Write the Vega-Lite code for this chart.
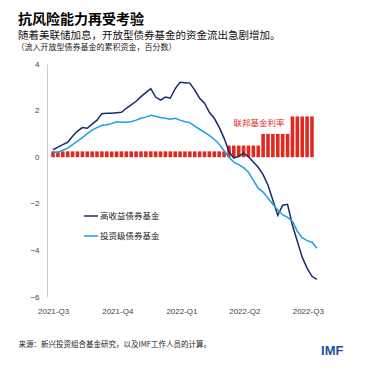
{
  "$schema": "https://vega.github.io/schema/vega-lite/v6.json",
  "autosize": "none",
  "width": 278,
  "height": 233,
  "padding": {"left": 47, "top": 64, "right": 46, "bottom": 74},
  "background": "white",
  "title": {
    "text": "抗风险能力再受考验",
    "subtitle": "随着美联储加息，开放型债券基金的资金流出急剧增加。",
    "anchor": "start",
    "frame": "group",
    "dx": -29,
    "dy": 1,
    "offset": 3,
    "font": "Noto Sans CJK SC",
    "fontSize": 14,
    "fontWeight": "bold",
    "color": "#000000",
    "subtitleFont": "Noto Sans CJK SC",
    "subtitleFontSize": 10.5,
    "subtitleColor": "#111111",
    "subtitlePadding": 4
  },
  "datasets": {
    "weekly": [
      {"date": "2021-07-01", "hy": 0.32, "ig": 0.21, "fed": 0.25},
      {"date": "2021-07-08", "hy": 0.43, "ig": 0.21, "fed": 0.25},
      {"date": "2021-07-15", "hy": 0.54, "ig": 0.30, "fed": 0.25},
      {"date": "2021-07-22", "hy": 0.64, "ig": 0.39, "fed": 0.25},
      {"date": "2021-07-29", "hy": 0.90, "ig": 0.54, "fed": 0.25},
      {"date": "2021-08-05", "hy": 1.12, "ig": 0.69, "fed": 0.25},
      {"date": "2021-08-12", "hy": 1.27, "ig": 0.84, "fed": 0.25},
      {"date": "2021-08-19", "hy": 1.24, "ig": 1.01, "fed": 0.25},
      {"date": "2021-08-26", "hy": 1.42, "ig": 1.16, "fed": 0.25},
      {"date": "2021-09-02", "hy": 1.59, "ig": 1.27, "fed": 0.25},
      {"date": "2021-09-09", "hy": 1.87, "ig": 1.37, "fed": 0.25},
      {"date": "2021-09-16", "hy": 1.89, "ig": 1.39, "fed": 0.25},
      {"date": "2021-09-23", "hy": 1.89, "ig": 1.44, "fed": 0.25},
      {"date": "2021-09-30", "hy": 1.91, "ig": 1.52, "fed": 0.25},
      {"date": "2021-10-07", "hy": 1.93, "ig": 1.50, "fed": 0.25},
      {"date": "2021-10-14", "hy": 2.10, "ig": 1.50, "fed": 0.25},
      {"date": "2021-10-21", "hy": 2.25, "ig": 1.52, "fed": 0.25},
      {"date": "2021-10-28", "hy": 2.40, "ig": 1.59, "fed": 0.25},
      {"date": "2021-11-04", "hy": 2.60, "ig": 1.67, "fed": 0.25},
      {"date": "2021-11-11", "hy": 2.77, "ig": 1.72, "fed": 0.25},
      {"date": "2021-11-18", "hy": 2.94, "ig": 1.80, "fed": 0.25},
      {"date": "2021-11-25", "hy": 2.58, "ig": 1.76, "fed": 0.25},
      {"date": "2021-12-02", "hy": 2.45, "ig": 1.70, "fed": 0.25},
      {"date": "2021-12-09", "hy": 2.58, "ig": 1.67, "fed": 0.25},
      {"date": "2021-12-16", "hy": 2.53, "ig": 1.63, "fed": 0.25},
      {"date": "2021-12-23", "hy": 2.94, "ig": 1.67, "fed": 0.25},
      {"date": "2021-12-30", "hy": 3.22, "ig": 1.59, "fed": 0.25},
      {"date": "2022-01-06", "hy": 3.20, "ig": 1.52, "fed": 0.25},
      {"date": "2022-01-13", "hy": 3.18, "ig": 1.48, "fed": 0.25},
      {"date": "2022-01-20", "hy": 2.88, "ig": 1.33, "fed": 0.25},
      {"date": "2022-01-27", "hy": 2.53, "ig": 1.20, "fed": 0.25},
      {"date": "2022-02-03", "hy": 2.32, "ig": 1.07, "fed": 0.25},
      {"date": "2022-02-10", "hy": 1.93, "ig": 0.94, "fed": 0.25},
      {"date": "2022-02-17", "hy": 1.67, "ig": 0.77, "fed": 0.25},
      {"date": "2022-02-24", "hy": 1.29, "ig": 0.56, "fed": 0.25},
      {"date": "2022-03-03", "hy": 0.82, "ig": 0.28, "fed": 0.25},
      {"date": "2022-03-10", "hy": 0.26, "ig": 0.00, "fed": 0.5},
      {"date": "2022-03-17", "hy": -0.04, "ig": -0.21, "fed": 0.5},
      {"date": "2022-03-24", "hy": 0.04, "ig": -0.32, "fed": 0.5},
      {"date": "2022-03-31", "hy": 0.17, "ig": -0.45, "fed": 0.5},
      {"date": "2022-04-07", "hy": 0.02, "ig": -0.64, "fed": 0.5},
      {"date": "2022-04-14", "hy": -0.21, "ig": -0.99, "fed": 0.5},
      {"date": "2022-04-21", "hy": -0.43, "ig": -1.33, "fed": 0.5},
      {"date": "2022-04-28", "hy": -0.75, "ig": -1.50, "fed": 1.0},
      {"date": "2022-05-05", "hy": -1.20, "ig": -1.76, "fed": 1.0},
      {"date": "2022-05-12", "hy": -1.85, "ig": -2.02, "fed": 1.0},
      {"date": "2022-05-19", "hy": -2.49, "ig": -2.27, "fed": 1.0},
      {"date": "2022-05-26", "hy": -2.06, "ig": -2.47, "fed": 1.0},
      {"date": "2022-06-02", "hy": -2.02, "ig": -2.58, "fed": 1.0},
      {"date": "2022-06-09", "hy": -2.92, "ig": -2.75, "fed": 1.75},
      {"date": "2022-06-16", "hy": -3.61, "ig": -3.18, "fed": 1.75},
      {"date": "2022-06-23", "hy": -4.29, "ig": -3.45, "fed": 1.75},
      {"date": "2022-06-30", "hy": -4.76, "ig": -3.58, "fed": 1.75},
      {"date": "2022-07-07", "hy": -5.11, "ig": -3.65, "fed": 1.75},
      {"date": "2022-07-14", "hy": -5.24, "ig": -3.91, "fed": null}
    ],
    "note": [
      {"date": "2022-04-22", "value": 1.46, "label": "联邦基金利率"}
    ]
  },
  "resolve": {"axis": {"x": "independent"}},
  "layer": [
    {
      "data": {"name": "weekly"},
      "mark": {"type": "bar", "width": 3.6, "color": "#e02a1f"},
      "encoding": {
        "x": {
          "field": "date",
          "type": "temporal",
          "scale": {"type": "utc", "domain": [{"year": 2021, "month": 6, "date": 29, "hours": 12, "utc": true}, {"year": 2022, "month": 7, "date": 18, "hours": 12, "utc": true}]},
          "axis": {
            "values": [
              {"year": 2021, "month": 7, "date": 1, "utc": true},
              {"year": 2021, "month": 10, "date": 1, "utc": true},
              {"year": 2022, "month": 1, "date": 1, "utc": true},
              {"year": 2022, "month": 4, "date": 1, "utc": true},
              {"year": 2022, "month": 7, "date": 1, "utc": true}
            ],
            "format": "%Y-Q%q",
            "domain": false,
            "ticks": false,
            "grid": false,
            "labelPadding": 10,
            "labelFont": "Liberation Sans",
            "labelFontSize": 8,
            "labelColor": "#444444",
            "labelFlush": false,
            "labelOverlap": false,
            "title": "来源：新兴投资组合基金研究，以及IMF工作人员的计算。",
            "titleFont": "Noto Sans CJK SC",
            "titleFontSize": 7.5,
            "titleFontWeight": "normal",
            "titleColor": "#222222",
            "titleAnchor": "start",
            "titleAlign": "left",
            "titleBaseline": "middle",
            "titleX": -29,
            "titleY": 47
          }
        },
        "y": {
          "field": "fed",
          "type": "quantitative",
          "title": "（流入开放型债券基金的累积资金，百分数）",
          "scale": {"domain": [-6, 4], "nice": false, "zero": false}
        }
      }
    },
    {
      "mark": {"type": "rule", "color": "#cccccc", "strokeWidth": 1},
      "encoding": {"y": {"datum": 0, "title": "（流入开放型债券基金的累积资金，百分数）"}}
    },
    {
      "data": {"name": "weekly"},
      "transform": [{"fold": ["hy", "ig"], "as": ["series", "value"]}],
      "mark": {"type": "line", "strokeWidth": 1.5},
      "encoding": {
        "x": {
          "field": "date",
          "type": "temporal",
          "axis": {
            "orient": "top",
            "labels": false,
            "ticks": false,
            "domain": false,
            "grid": false,
            "title": "IMF",
            "titleFont": "Liberation Sans",
            "titleFontSize": 13,
            "titleFontWeight": "bold",
            "titleColor": "#1d4f9c",
            "titleAlign": "right",
            "titleBaseline": "middle",
            "titleX": 296,
            "titleY": 286
          }
        },
        "y": {"field": "value", "type": "quantitative", "title": "（流入开放型债券基金的累积资金，百分数）"},
        "color": {
          "field": "series",
          "type": "nominal",
          "scale": {"domain": ["hy", "ig"], "range": ["#1a2a6c", "#1aa2e2"]},
          "legend": {
            "orient": "none",
            "legendX": 36,
            "legendY": 144,
            "title": null,
            "symbolType": "stroke",
            "symbolSize": 196,
            "symbolStrokeWidth": 1.5,
            "labelFont": "Noto Sans CJK SC",
            "labelFontSize": 8.5,
            "labelColor": "#222222",
            "labelOffset": 1,
            "rowPadding": 7,
            "labelExpr": "datum.value == 'hy' ? '高收益债券基金' : '投资级债券基金'"
          }
        }
      }
    },
    {
      "data": {"name": "note"},
      "mark": {"type": "text", "color": "#e02a1f", "font": "Noto Sans CJK SC", "fontSize": 8.5},
      "encoding": {
        "x": {"field": "date", "type": "temporal", "axis": null},
        "y": {"field": "value", "type": "quantitative", "title": "（流入开放型债券基金的累积资金，百分数）"},
        "text": {"field": "label"}
      }
    }
  ],
  "config": {
    "view": {"stroke": null},
    "axisY": {
      "values": [-6, -4, -2, 0, 2, 4],
      "grid": false,
      "ticks": false,
      "domainColor": "#cccccc",
      "labelPadding": 8,
      "labelFont": "Liberation Sans",
      "labelFontSize": 8,
      "labelColor": "#444444",
      "titleFont": "Noto Sans CJK SC",
      "titleFontSize": 8,
      "titleFontWeight": "normal",
      "titleColor": "#222222",
      "titleAngle": 0,
      "titleAlign": "left",
      "titleBaseline": "middle",
      "titleX": -31,
      "titleY": -17
    }
  }
}
